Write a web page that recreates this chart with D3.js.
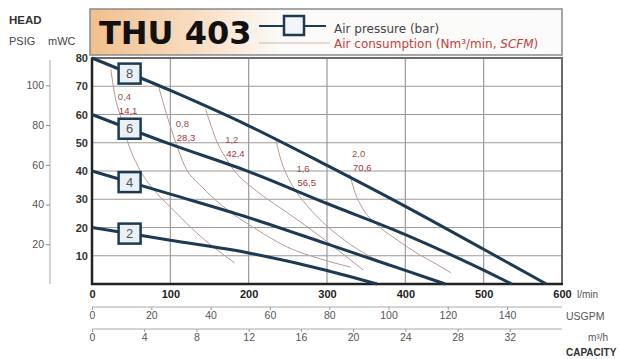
<!DOCTYPE html>
<html><head><meta charset="utf-8">
<script src="https://cdn.jsdelivr.net/npm/d3@7/dist/d3.min.js"></script>
<style>body{margin:0;background:#fff;}svg{display:block;font-family:"Liberation Sans",Arial,sans-serif;}</style>
</head><body>
<svg id="c" width="621" height="359"></svg>
<script>
// ---- data ----
const flowTicks = [0,100,200,300,400,500,600];           // l/min
const headTicks = [10,20,30,40,50,60,70,80];             // mWC
const psiTicks = [20,40,60,80,100];                      // PSIG
const usgpmTicks = [0,20,40,60,80,100,120,140];
const m3hTicks = [0,4,8,12,16,20,24,28,32];
const pressureLabels = ["8","6","4","2"];
const bar8 = [[0,80],[100,68.5],[200,56],[300,42],[400,27.5],[500,12.3],[580,0]];
const bar6 = [[0,60],[100,49.5],[200,39.8],[300,28.5],[400,17.5],[500,4.9],[536,0]];
const bar4 = [[0,40],[100,31.8],[200,23.5],[300,14.2],[400,4.8],[451,0]];
const bar2 = [[0,20],[100,15.5],[200,11],[300,4.8],[364,0]];
const airLabelsNm3 = ["0,4","0,8","1,2","1,6","2,0"];
const airLabelsScfm = ["14,1","28,3","42,4","56,5","70,6"];
const air04 = [[24,76],[29,67],[38,58],[46,50],[59,41.5],[80,33],[101,27],[140,16.5],[182,7.5]];
const air08 = [[84,71],[90,65],[97,58.5],[107,50],[118,42],[140,34.5],[165,28],[212,19],[250,13],[290,9],[330,6]];
const air12 = [[145,62],[152,56],[160,50],[170,45],[178,41.5],[212,32.5],[240,27],[266,22],[300,15],[346,5]];
const air16 = [[234,52],[240,45],[248,39],[260,33],[280,26],[300,20.5],[330,14],[360,9],[390,6]];
const air20 = [[329,39],[335,33],[345,27],[364,21],[390,15.5],[419,10.2],[440,7],[458,4]];
const boxFlow = 48;
const airLabelPos = [[33,65],[107,55.5],[170,50],[261,39.5],[332,45]]; // [flow, head] of label anchor

// ---- scales ----
const svg = d3.select("#c");
const x = d3.scaleLinear([0,600],[92,562]);
const y = d3.scaleLinear([0,80],[284,58]);
const yPsi = d3.scaleLinear([0,80/0.70307],[284,58]);
const xUs = d3.scaleLinear([0,600/3.78541],[92,562]);
const xM3 = d3.scaleLinear([0,36],[92,562]);

// ---- title box ----
const defs = svg.append("defs");
const g1 = defs.append("linearGradient").attr("id","tg").attr("x1","0").attr("x2","1");
g1.append("stop").attr("offset","0").attr("stop-color","#f1c08c");
g1.append("stop").attr("offset","0.22").attr("stop-color","#f8dcc0");
g1.append("stop").attr("offset","0.4").attr("stop-color","#fbfaf8");
g1.append("stop").attr("offset","1").attr("stop-color","#fbfbfb");
svg.append("rect").attr("x",90).attr("y",9).attr("width",472).attr("height",46)
  .attr("fill","url(#tg)").attr("stroke","#8a8a8a").attr("stroke-width",1.5);
svg.append("text").attr("x",99).attr("y",44).text("THU 403")
  .attr("font-family","DejaVu Sans").attr("font-weight","bold").attr("font-size",32).attr("fill","#111");
// legend
svg.append("line").attr("x1",259).attr("x2",326).attr("y1",26).attr("y2",26).attr("stroke","#1d3a52").attr("stroke-width",2);
svg.append("rect").attr("x",284).attr("y",16).attr("width",20).attr("height",19).attr("fill","#f2f6fa").attr("stroke","#1d3a52").attr("stroke-width",2.5);
svg.append("line").attr("x1",259).attr("x2",330).attr("y1",43).attr("y2",43).attr("stroke","#c8b8b0").attr("stroke-width",1);
svg.append("text").attr("x",334).attr("y",33).text("Air pressure (bar)")
  .attr("font-family","DejaVu Sans").attr("font-size",12).attr("fill","#444");
const t2 = svg.append("text").attr("x",334).attr("y",48).attr("font-family","DejaVu Sans").attr("font-size",12).attr("fill","#c0443c");
t2.append("tspan").text("Air consumption (Nm³/min, ");
t2.append("tspan").attr("font-style","italic").text("SCFM");
t2.append("tspan").text(")");

// ---- grid ----
const grid = svg.append("g");
grid.selectAll(".vg").data(flowTicks.slice(1,-1)).join("line")
  .attr("x1",d=>x(d)).attr("x2",d=>x(d)).attr("y1",y(80)).attr("y2",y(0)).attr("stroke","#9a9a9a").attr("stroke-width",1.2);
grid.selectAll(".hg").data(headTicks.slice(0,-1)).join("line")
  .attr("x1",x(0)).attr("x2",x(600)).attr("y1",d=>y(d)).attr("y2",d=>y(d)).attr("stroke","#9a9a9a").attr("stroke-width",1.2);
svg.append("rect").attr("x",x(0)).attr("y",y(80)).attr("width",x(600)-x(0)).attr("height",y(0)-y(80))
  .attr("fill","none").attr("stroke","#6a6a6a").attr("stroke-width",2);
svg.append("line").attr("x1",x(0)).attr("x2",x(0)).attr("y1",y(80)).attr("y2",y(0)+1).attr("stroke","#222").attr("stroke-width",2.5);
svg.append("line").attr("x1",x(0)-1).attr("x2",x(600)+1).attr("y1",y(0)).attr("y2",y(0)).attr("stroke","#222").attr("stroke-width",2.5);

// ---- air consumption curves ----
const line = d3.line().x(d=>x(d[0])).y(d=>y(d[1])).curve(d3.curveMonotoneX);
const airSeries = [air04,air08,air12,air16,air20];
svg.append("g").selectAll("path").data(airSeries).join("path")
  .attr("d",line).attr("fill","none").attr("stroke","#b59a95").attr("stroke-width",1);
const al = svg.append("g").attr("font-size",9.5);
airLabelPos.forEach((p,i)=>{
  al.append("text").attr("x",x(p[0])).attr("y",y(p[1])).text(airLabelsNm3[i]).attr("fill","#9a5048");
  al.append("text").attr("x",x(p[0])+1).attr("y",y(p[1])+14).text(airLabelsScfm[i]).attr("fill","#a8323a");
});

// ---- pressure curves ----
const barSeries = [bar8,bar6,bar4,bar2];
svg.append("g").selectAll("path").data(barSeries).join("path")
  .attr("d",line).attr("fill","none").attr("stroke","#1d3a52").attr("stroke-width",3);
function interp(arr,q){for(let i=1;i<arr.length;i++){if(q<=arr[i][0]){const a=arr[i-1],b=arr[i];return a[1]+(b[1]-a[1])*(q-a[0])/(b[0]-a[0]);}}return arr[arr.length-1][1];}
barSeries.forEach((s,i)=>{
  const cx=x(boxFlow), cy=y(interp(s,boxFlow));
  svg.append("rect").attr("x",cx-11).attr("y",cy-10).attr("width",22).attr("height",20)
    .attr("fill","#eaf0f6").attr("stroke","#1d3a52").attr("stroke-width",2.5);
  svg.append("text").attr("x",cx).attr("y",cy+4.5).attr("text-anchor","middle").attr("font-size",13).attr("fill","#555").text(pressureLabels[i]);
});

// ---- left axes ----
svg.append("g").attr("transform",`translate(${x(0)-4},0)`)
  .call(d3.axisLeft(y).tickValues(headTicks).tickSize(0).tickPadding(0))
  .call(g=>g.select(".domain").remove())
  .selectAll("text").attr("font-size",11).attr("font-weight","bold").attr("fill","#333").attr("font-family","Liberation Sans, Arial");
const pa = svg.append("g").attr("transform","translate(50,0)")
  .call(d3.axisLeft(yPsi).tickValues(psiTicks).tickSize(4).tickPadding(2));
pa.select(".domain").attr("d",`M0,${y(80)+2}V${y(0)}`).attr("stroke","#aaa");
pa.selectAll("line").attr("stroke","#888");
pa.selectAll("text").attr("font-size",10.5).attr("fill","#555").attr("font-family","Liberation Sans, Arial");
svg.append("text").attr("x",9).attr("y",24).text("HEAD").attr("font-size",11.5).attr("font-weight","bold").attr("fill","#333");
svg.append("text").attr("x",9).attr("y",45).text("PSIG").attr("font-size",11).attr("fill","#444");
svg.append("text").attr("x",48).attr("y",45).text("mWC").attr("font-size",11).attr("fill","#444");

// ---- bottom axes ----
const xa = svg.append("g").attr("transform",`translate(0,${y(0)+3})`)
  .call(d3.axisBottom(x).tickValues(flowTicks).tickSize(0).tickPadding(3));
xa.select(".domain").remove();
xa.selectAll("text").attr("font-size",11).attr("font-weight","bold").attr("fill","#222").attr("font-family","Liberation Sans, Arial");
const ua = svg.append("g").attr("transform","translate(0,307)")
  .call(d3.axisBottom(xUs).tickValues(usgpmTicks).tickSize(3).tickPadding(2));
ua.select(".domain").attr("d",`M${x(0)},0H${x(600)}`).attr("stroke","#aaa");
ua.selectAll("line").attr("stroke","#999");
ua.selectAll("text").attr("font-size",10.5).attr("fill","#555").attr("font-family","Liberation Sans, Arial");
const ma = svg.append("g").attr("transform","translate(0,329)")
  .call(d3.axisBottom(xM3).tickValues(m3hTicks).tickSize(3).tickPadding(2));
ma.select(".domain").attr("d",`M${x(0)},0H${x(600)}`).attr("stroke","#aaa");
ma.selectAll("line").attr("stroke","#999");
ma.selectAll("text").attr("font-size",10.5).attr("fill","#555").attr("font-family","Liberation Sans, Arial");
svg.append("text").attr("x",577).attr("y",298).text("l/min").attr("font-size",10).attr("fill","#555");
svg.append("text").attr("x",566).attr("y",320).text("USGPM").attr("font-size",10.5).attr("fill","#555");
svg.append("text").attr("x",588).attr("y",341).text("m³/h").attr("font-size",10).attr("fill","#555");
svg.append("text").attr("x",566).attr("y",356).text("CAPACITY").attr("font-size",10).attr("font-weight","bold").attr("fill","#333");
</script>
</body></html>
